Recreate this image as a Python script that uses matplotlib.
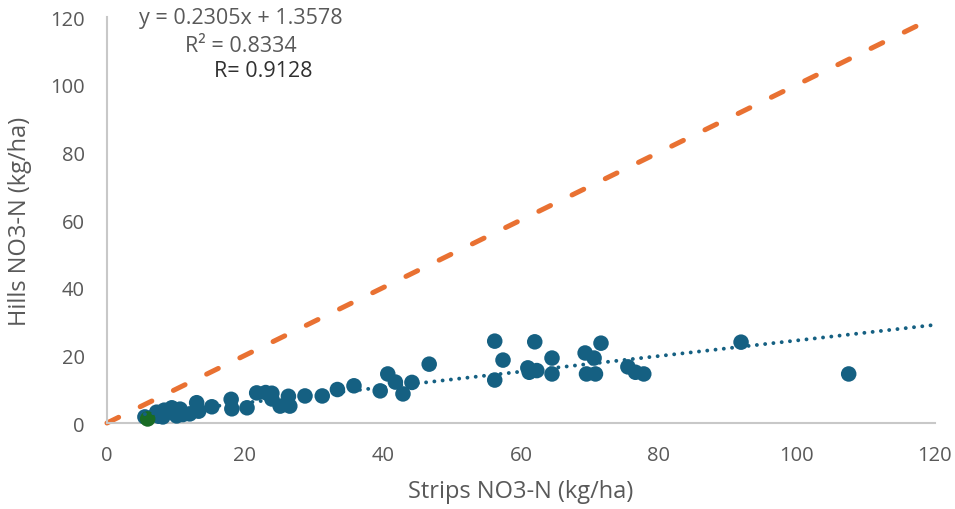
import matplotlib
matplotlib.use("Agg")
import matplotlib.pyplot as plt
import numpy as np

plt.rcParams['font.family'] = ['Open Sans', 'DejaVu Sans']

# Hills vs strips NO3-N (kg/ha)
strips = [5.5, 7.2, 7.5, 8.1, 8.3, 9.1, 9.4, 10.1, 10.6, 11.0, 12.0, 13.0, 13.3,
          15.2, 18.0, 18.1, 20.3, 21.7, 23.0, 23.9, 23.9, 25.1, 26.3, 26.5,
          28.7, 31.2, 33.4, 35.8, 39.6, 40.7, 41.8, 42.9, 44.2, 46.7,
          56.2, 56.2, 57.4, 61.0, 61.2, 62.0, 62.3, 64.5, 64.5, 69.3, 69.5,
          70.6, 70.8, 71.6, 75.5, 76.6, 77.8, 91.9, 107.5]
hills = [1.8, 3.2, 2.0, 1.8, 3.8, 3.5, 4.5, 2.1, 4.1, 2.5, 2.7, 6.0, 3.5,
         4.8, 7.0, 4.2, 4.5, 8.9, 9.0, 8.8, 7.1, 5.0, 7.9, 5.0,
         8.0, 8.0, 9.9, 11.0, 9.5, 14.5, 12.1, 8.6, 12.0, 17.4,
         24.2, 12.7, 18.6, 16.3, 15.0, 24.0, 15.5, 19.2, 14.5, 20.7, 14.5,
         19.2, 14.5, 23.6, 16.6, 15.0, 14.5, 23.9, 14.5]
green_x = [5.9]
green_y = [1.2]

slope = 0.2305
intercept = 1.3578
one_to_one = [0, 120]

blue = '#156082'
orange = '#E97132'
grey = '#595959'

fig = plt.figure(figsize=(9.55, 5.1), dpi=100)
ax = fig.add_axes([0.112, 0.1686, 0.867, 0.796])

ax.plot(one_to_one, one_to_one, color=orange, lw=3.6, linestyle=(0, (2.6, 4.8)),
        dash_capstyle='round', clip_on=False, zorder=2)

tx = np.array([min(strips), 120])
ax.plot(tx, slope * tx + intercept, color=blue, lw=2.8, linestyle=(0, (0.01, 2.13)),
        dash_capstyle='round', zorder=4)

ax.scatter(strips, hills, s=125, color=blue, edgecolors='none', zorder=3,
           clip_on=False)
ax.scatter(green_x, green_y, s=125, color='#196B24', edgecolors='none', zorder=3.5,
           clip_on=False)

ax.set_xlim(0, 120)
ax.set_ylim(0, 120)
ax.set_xticks(range(0, 121, 20))
ax.set_yticks(range(0, 121, 20))
ax.tick_params(length=0, labelsize=14.5, colors=grey, pad=16)
for s in ['top', 'right']:
    ax.spines[s].set_visible(False)
for s in ['left', 'bottom']:
    ax.spines[s].set_color('#C8C8C8')
    ax.spines[s].set_linewidth(1.5)

ax.set_xlabel('Strips NO3-N (kg/ha)', fontsize=17, color=grey)
ax.set_ylabel('Hills NO3-N (kg/ha)', fontsize=17, color=grey)
ax.xaxis.set_label_coords(0.5, -0.138)
ax.yaxis.set_label_coords(-0.09, 0.5)

fig.text(0.2518, 0.9647, 'y = 0.2305x + 1.3578', fontsize=15.5, color=grey,
         ha='center', va='center')
fig.text(0.2524, 0.908, 'R² = 0.8334', fontsize=15.5, color=grey,
         ha='center', va='center')
fig.text(0.2754, 0.859, 'R= 0.9128', fontsize=15.5, color='#303030',
         ha='center', va='center')

fig.savefig('out.png', dpi=100)
